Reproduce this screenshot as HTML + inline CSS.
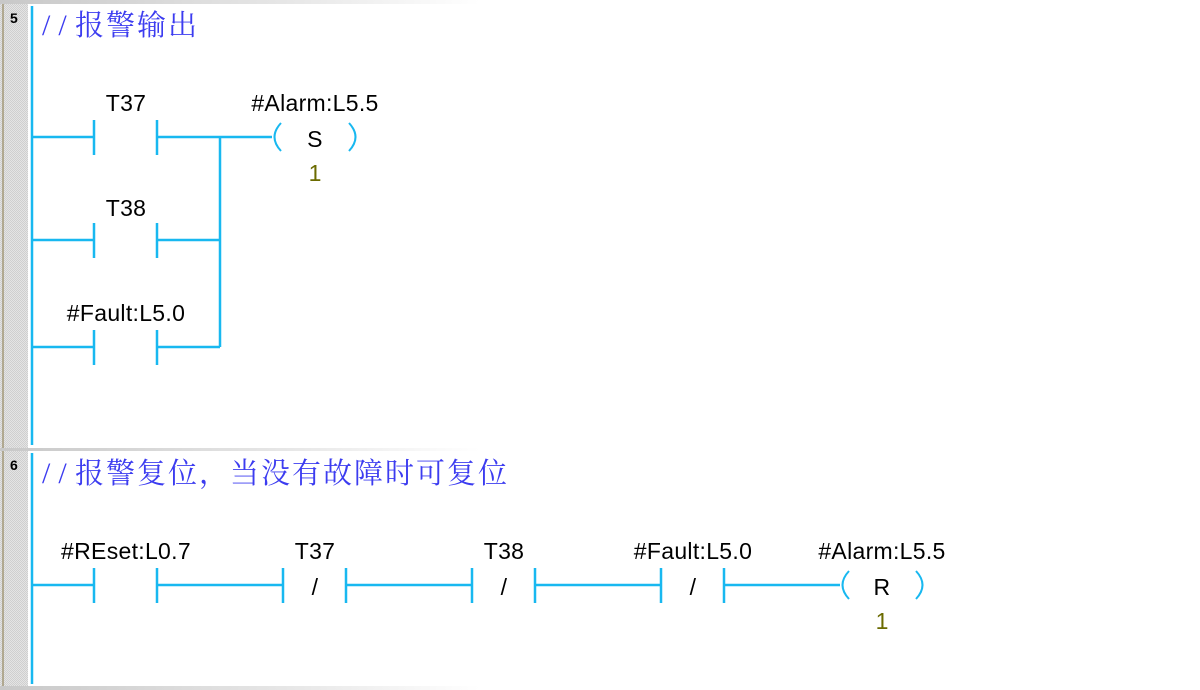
<!DOCTYPE html>
<html><head><meta charset="utf-8"><style>
html,body{margin:0;padding:0;background:#fff;}
svg{display:block}
.l{font-family:"Liberation Sans",sans-serif;font-size:23px;letter-spacing:0.3px;fill:#000;text-anchor:middle}
.c{font-family:"Noto Serif CJK SC",serif;font-size:29px;fill:#3c3cf0}
.s{font-family:"Liberation Serif",serif;font-size:30px;letter-spacing:8px}
.n{font-family:"Liberation Sans",sans-serif;font-size:23px;fill:#6b6b00;text-anchor:middle}
.w{stroke:#18b8f0;stroke-width:2.5;fill:none}
</style></head><body>
<svg width="1200" height="690" viewBox="0 0 1200 690">
<defs>
<pattern id="d" width="2" height="2" patternUnits="userSpaceOnUse"><rect width="2" height="2" fill="#e4e4e4"/><rect width="1" height="1" fill="#cfcfcf"/><rect x="1" y="1" width="1" height="1" fill="#cfcfcf"/></pattern>
<linearGradient id="g" x1="0" x2="1"><stop offset="0" stop-color="#c8c8c8"/><stop offset="0.25" stop-color="#e8e8e8"/><stop offset="0.4" stop-color="#fff"/></linearGradient>
</defs>
<rect x="0" y="0" width="28" height="690" fill="url(#d)"/>
<rect x="2" y="0" width="2" height="690" fill="#b0a890"/>
<rect x="0" y="0" width="1200" height="4" fill="url(#g)"/>
<rect x="0" y="448" width="1200" height="3" fill="url(#g)"/>
<rect x="0" y="686" width="1200" height="4" fill="url(#g)"/>
<text x="10" y="23" style="font-family:'Liberation Sans',sans-serif;font-weight:bold;font-size:14px">5</text>
<text x="10" y="470" style="font-family:'Liberation Sans',sans-serif;font-weight:bold;font-size:14px">6</text>
<line class="w" x1="32" y1="6" x2="32" y2="445"/>
<line class="w" x1="32" y1="453" x2="32" y2="684"/>
<text class="s" x="42" y="35" fill="#3c3cf0">//</text>
<text class="c" x="75" y="35" textLength="122" lengthAdjust="spacing">报警输出</text>
<text class="s" x="42" y="483" fill="#3c3cf0">//</text>
<text class="c" x="75" y="483" textLength="432" lengthAdjust="spacing">报警复位，当没有故障时可复位</text>
<g class="w">
<path d="M32 137H94M94 120V155M157 120V155M157 137H272"/>
<path d="M32 240H94M94 223V258M157 223V258M157 240H220"/>
<path d="M32 347H94M94 330V365M157 330V365M157 347H220"/>
<path d="M220 137V347"/>
<path d="M281 123Q268 137 281 151M349 123Q362 137 349 151" stroke-width="2"/>
<path d="M32 585H94M94 568V603M157 568V603M157 585H283M283 568V603M346 568V603M346 585H472M472 568V603M535 568V603M535 585H661M661 568V603M724 568V603M724 585H840"/>
<path d="M849 571Q836 585 849 599M916 571Q929 585 916 599" stroke-width="2"/>
</g>
<text class="l" x="126" y="111">T37</text>
<text class="l" x="315" y="111">#Alarm:L5.5</text>
<text class="l" x="315" y="147">S</text>
<text class="n" x="315" y="181">1</text>
<text class="l" x="126" y="216">T38</text>
<text class="l" x="126" y="321">#Fault:L5.0</text>
<text class="l" x="126" y="559">#REset:L0.7</text>
<text class="l" x="315" y="559">T37</text>
<text class="l" x="315" y="595">/</text>
<text class="l" x="504" y="559">T38</text>
<text class="l" x="504" y="595">/</text>
<text class="l" x="693" y="559">#Fault:L5.0</text>
<text class="l" x="693" y="595">/</text>
<text class="l" x="882" y="559">#Alarm:L5.5</text>
<text class="l" x="882" y="595">R</text>
<text class="n" x="882" y="629">1</text>
</svg>
</body></html>
